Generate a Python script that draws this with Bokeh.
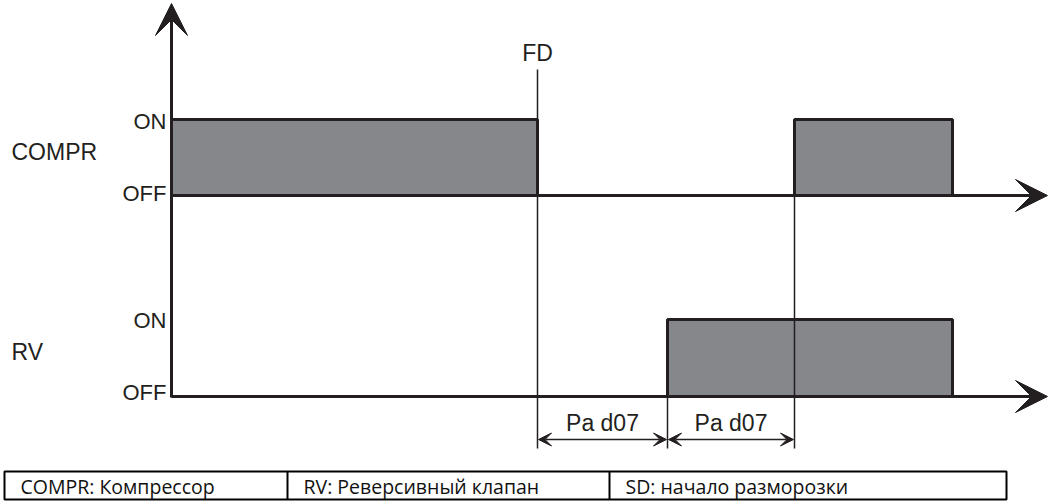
from bokeh.plotting import figure
from bokeh.models import Range1d, Arrow, VeeHead
from bokeh.core.properties import value
from bokeh.embed import file_html
from bokeh.resources import INLINE

# ---- data (schematic time positions and signal levels, drawing units) ----
t_origin = 171
t_end_axis = 1047
t_fd = 537            # FD: start of defrost
t_rv_on = 667         # RV switches on after Pa d07
t_compr_on = 794      # compressor restarts after another Pa d07
t_stop = 952

compr_start = [t_origin, t_compr_on]
compr_stop = [t_fd, t_stop]
rv_start = [t_rv_on]
rv_stop = [t_stop]

signals = ["COMPR", "RV"]
sig_on = [119, 319]
sig_off = [195, 396]
sig_label_y = [151, 351]

state_labels = ["ON", "OFF", "ON", "OFF"]
state_y = [121, 193, 320, 392]

marker_x = [t_fd, t_rv_on, t_compr_on]
marker_top = [69, 319, 119]
marker_bottom = 448
dim_y = 439
dim_label = "Pa d07"

table_cells = ["COMPR: Компрессор", "RV: Реверсивный клапан", "SD: начало разморозки"]
table_edges = [4, 287, 609, 1006]
table_top, table_bottom = 471, 499

DARK = "#231f20"
GREY = "#86878b"

p = figure(width=1050, height=502, x_range=Range1d(0, 1050), y_range=Range1d(502, 0),
           output_backend="svg", toolbar_location=None, min_border=0)
p.axis.visible = False
p.grid.visible = False
p.outline_line_color = None
p.background_fill_color = "white"

# pulses
p.quad(left=compr_start, right=compr_stop, top=[sig_on[0]] * 2, bottom=[sig_off[0]] * 2,
       fill_color=GREY, line_color=DARK, line_width=3)
p.quad(left=rv_start, right=rv_stop, top=[sig_on[1]], bottom=[sig_off[1]],
       fill_color=GREY, line_color=DARK, line_width=3)

# thin marker lines
p.segment(x0=marker_x, x1=marker_x, y0=marker_top, y1=[marker_bottom] * 3,
          line_color=DARK, line_width=1.5)

# axes with arrows
p.add_layout(Arrow(end=VeeHead(size=32, fill_color=DARK, line_color=DARK),
                   x_start=t_origin, y_start=sig_off[1] + 1, x_end=t_origin, y_end=3,
                   line_color=DARK, line_width=3))
for yb in sig_off:
    p.add_layout(Arrow(end=VeeHead(size=32, fill_color=DARK, line_color=DARK),
                       x_start=t_origin, y_start=yb, x_end=t_end_axis, y_end=yb,
                       line_color=DARK, line_width=3))

# dimension arrows
for a, b in [(t_fd, t_rv_on), (t_rv_on, t_compr_on)]:
    p.add_layout(Arrow(start=VeeHead(size=13, fill_color=DARK, line_color=DARK, line_width=1),
                       end=VeeHead(size=13, fill_color=DARK, line_color=DARK, line_width=1),
                       x_start=a + 1, y_start=dim_y, x_end=b - 1, y_end=dim_y,
                       line_color=DARK, line_width=1.5))

font = value("Liberation Sans")
p.text(x=[11, 11], y=sig_label_y, text=signals, text_font=font, text_font_size="23px",
       text_color=DARK, text_align="left", text_baseline="middle")
p.text(x=[166] * 4, y=state_y, text=state_labels, text_font=font, text_font_size="22px",
       text_color=DARK, text_align="right", text_baseline="middle")
p.text(x=[t_fd], y=[52], text=["FD"], text_font=font, text_font_size="23px",
       text_color=DARK, text_align="center", text_baseline="middle")
p.text(x=[(t_fd + t_rv_on) / 2, (t_rv_on + t_compr_on) / 2], y=[422, 422],
       text=[dim_label] * 2, text_font=font, text_font_size="23px",
       text_color=DARK, text_align="center", text_baseline="middle")

# legend table
p.quad(left=[table_edges[0]], right=[table_edges[-1]], top=[table_top], bottom=[table_bottom],
       fill_color=None, line_color="black", line_width=2)
p.segment(x0=table_edges[1:3], x1=table_edges[1:3], y0=[table_top] * 2, y1=[table_bottom] * 2,
          line_color="black", line_width=2)
p.text(x=[e + 16 for e in table_edges[:3]], y=[486] * 3, text=table_cells,
       text_font=value("Open Sans"), text_font_size="19.5px", text_color="#111111",
       text_align="left", text_baseline="middle")

open("out.html", "w").write(file_html(p, INLINE))
